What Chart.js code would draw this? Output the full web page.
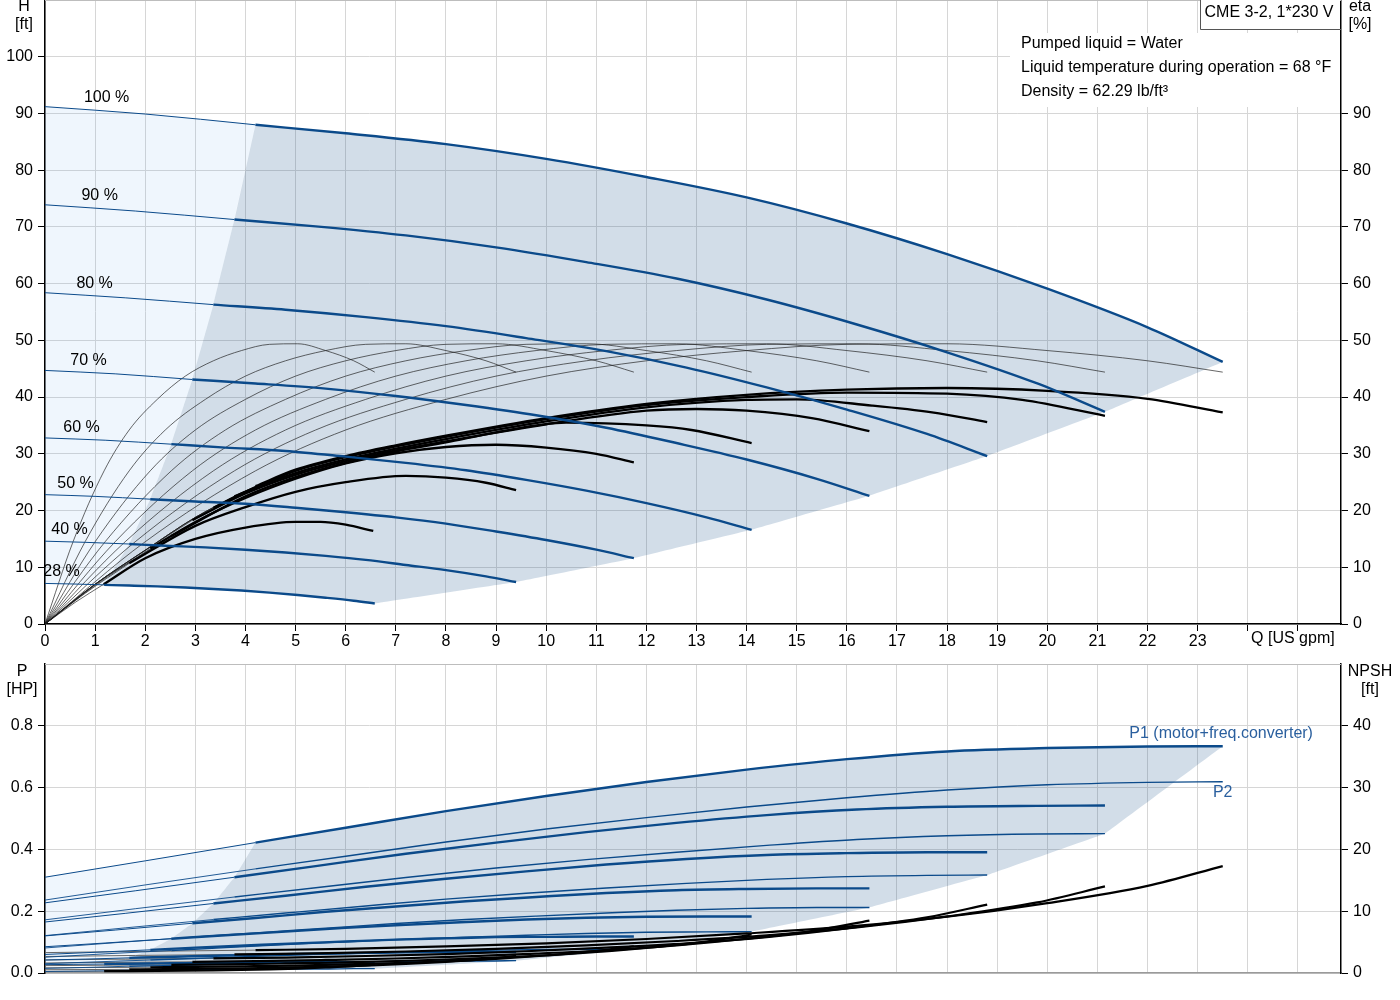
<!DOCTYPE html>
<html><head><meta charset="utf-8">
<script src="https://cdn.jsdelivr.net/npm/chart.js@4.4.0/dist/chart.umd.min.js"></script>
<style>
html,body{margin:0;padding:0;background:#fff;overflow:hidden;}
#top{position:absolute;left:0;top:0;width:1400px;height:655px;}
#bot{position:absolute;left:0;top:655px;width:1400px;height:345px;}
</style></head><body>
<div id="top"><canvas id="c1"></canvas></div>
<div id="bot"><canvas id="c2"></canvas></div>
<script>
// ---------- DATA ----------
const speedLabels = ['100 %','90 %','80 %','70 %','60 %','50 %','40 %','28 %'];
const xTicksShown = [0,1,2,3,4,5,6,7,8,9,10,11,12,13,14,15,16,17,18,19,20,21,22,23];

// flow points (US gpm) for each speed curve
const q100 = [0,2,4.2,6,8,10,12,14,16,18,20,22,23.5];
const q90  = [0,1.8,3.78,5.4,7.2,9,10.8,12.6,14.4,16.2,18,19.8,21.15];
const q80  = [0,1.6,3.36,4.8,6.4,8,9.6,11.2,12.8,14.4,16,17.6,18.8];
const q70  = [0,1.4,2.94,4.2,5.6,7,8.4,9.8,11.2,12.6,14,15.4,16.45];
const q60  = [0,1.2,2.52,3.6,4.8,6,7.2,8.4,9.6,10.8,12,13.2,14.1];
const q50  = [0,1,2.1,3,4,5,6,7,8,9,10,11,11.75];
const q40  = [0,0.8,1.68,2.4,3.2,4,4.8,5.6,6.4,7.2,8,8.8,9.4];
const q28  = [0,0.56,1.18,1.68,2.24,2.8,3.36,3.92,4.48,5.04,5.6,6.16,6.58];

// head H [ft]
const head100 = [91.2,89.9,88.0,86.5,84.6,82.0,78.8,75.2,70.6,65.2,59.1,52.3,46.2];
const head90  = [73.9,72.8,71.3,70.1,68.5,66.4,63.8,60.9,57.2,52.8,47.9,42.4,37.4];
const head80  = [58.4,57.5,56.3,55.4,54.1,52.5,50.4,48.1,45.2,41.7,37.8,33.5,29.6];
const head70  = [44.7,44.1,43.1,42.4,41.5,40.2,38.6,36.8,34.6,31.9,29.0,25.6,22.6];
const head60  = [32.8,32.4,31.7,31.1,30.5,29.5,28.4,27.1,25.4,23.5,21.3,18.8,16.6];
const head50  = [22.8,22.5,22.0,21.6,21.2,20.5,19.7,18.8,17.7,16.3,14.8,13.1,11.6];
const head40  = [14.6,14.4,14.1,13.8,13.5,13.1,12.6,12.0,11.3,10.4,9.5,8.4,7.4];
const head28  = [7.15,7.05,6.9,6.78,6.63,6.43,6.18,5.9,5.53,5.11,4.63,4.1,3.62];

// pump efficiency [%] (same values at the matching flow points of every speed)
const etaPump = [0,14.5,27.0,34.2,39.6,43.7,46.4,48.2,49.3,49.4,48.2,46.4,44.4];

// total efficiency [%] per speed
const etaTotQ100 = [0,1,2,3,4.2,5,6,7,8,10,12,14,16,18,20,22,23.5];
const etaTot100  = [0,7.0,13.0,18.8,24.3,27.2,29.6,31.5,33.2,36.3,38.8,40.4,41.3,41.6,41.1,39.7,37.3];
const etaTotQ90  = [0,1,2,3,3.78,5,6,7,8,10,12,14,16,18,19.5,21.15];
const etaTot90   = [0,7.0,13.0,18.8,22.5,27.0,29.4,31.3,33.0,36.1,38.6,40.0,40.8,40.6,39.5,36.7];
const etaTotQ80  = [0,1,2,3,3.36,4,5,6,7,8,10,12,14,15,16.5,17.7,18.8];
const etaTot80   = [0,7.0,13.0,18.8,20.5,23.3,26.6,29.0,30.9,32.6,35.7,38.2,39.5,39.6,38.5,37.3,35.6];
const etaTotQ70  = [0,1,2,2.94,4,5,6,7,8,10,12,13,14,15.3,16.45];
const etaTot70   = [0,7.0,13.0,18.3,23.0,26.3,28.7,30.6,32.2,35.2,37.6,37.9,37.6,36.3,34.0];
const etaTotQ60  = [0,1,2,2.52,4,5,6,7,8,9,10.4,12,12.9,14.1];
const etaTot60   = [0,7.0,12.6,15.5,22.5,25.9,28.4,30.4,32.0,33.8,35.5,35.0,34.2,31.9];
const etaTotQ50  = [0,1,2.1,3,4,5,6,7,8,9,10,11,11.75];
const etaTot50   = [0,6.8,13.3,18.0,22.2,25.6,28.3,30.1,31.2,31.6,31.1,30.0,28.5];
const etaTotQ40  = [0,0.8,1.68,3,4,5,6,7.2,8,8.8,9.4];
const etaTot40   = [0,5.4,10.7,17.3,20.6,23.3,25.0,26.1,25.8,24.9,23.6];
const etaTotQ28  = [0,0.6,1.17,2,3,4,5,5.5,6,6.55];
const etaTot28   = [0,3.8,7.0,11.6,15.0,17.0,18.0,18.0,17.5,16.4];
const etaTotStart = [4,4,4,3,3,2,2,2];

// power P1 (motor+freq.converter) [HP]
const p1_100 = [0.310,0.363,0.422,0.470,0.524,0.573,0.618,0.658,0.692,0.717,0.728,0.733,0.734];
const p1_90  = [0.227,0.266,0.310,0.346,0.386,0.422,0.456,0.486,0.511,0.529,0.538,0.541,0.542];
const p1_80  = [0.165,0.193,0.225,0.250,0.279,0.305,0.329,0.351,0.369,0.382,0.388,0.391,0.391];
const p1_70  = [0.120,0.139,0.161,0.178,0.198,0.215,0.232,0.246,0.259,0.268,0.272,0.274,0.274];
const p1_60  = [0.085,0.097,0.111,0.122,0.134,0.146,0.156,0.165,0.173,0.179,0.182,0.183,0.183];
const p1_50  = [0.060,0.067,0.075,0.082,0.089,0.096,0.102,0.108,0.112,0.116,0.117,0.118,0.118];
const p1_40  = [0.042,0.045,0.049,0.052,0.055,0.058,0.061,0.063,0.065,0.067,0.068,0.068,0.068];
const p1_28  = [0.027,0.028,0.029,0.030,0.031,0.032,0.033,0.034,0.034,0.035,0.035,0.035,0.035];

// power P2 [HP]
const p2_100 = [0.236,0.285,0.337,0.378,0.424,0.466,0.503,0.537,0.567,0.592,0.609,0.617,0.619];
const p2_90  = [0.172,0.208,0.246,0.276,0.309,0.340,0.367,0.391,0.413,0.432,0.444,0.450,0.451];
const p2_80  = [0.121,0.146,0.173,0.194,0.217,0.239,0.258,0.275,0.290,0.303,0.312,0.316,0.317];
const p2_70  = [0.081,0.098,0.116,0.130,0.145,0.160,0.173,0.184,0.194,0.203,0.209,0.212,0.212];
const p2_60  = [0.051,0.062,0.073,0.082,0.092,0.101,0.109,0.116,0.122,0.128,0.132,0.133,0.134];
const p2_50  = [0.030,0.036,0.042,0.047,0.053,0.058,0.063,0.067,0.071,0.074,0.076,0.077,0.077];
const p2_40  = [0.015,0.018,0.022,0.024,0.027,0.030,0.032,0.034,0.036,0.038,0.039,0.039,0.040];
const p2_28  = [0.005,0.006,0.007,0.008,0.009,0.010,0.011,0.012,0.012,0.013,0.013,0.014,0.014];

// NPSH [ft]
const npsh100 = [3.3,3.5,3.7,3.9,4.3,4.8,5.5,6.4,7.5,9.1,11.3,14.1,17.3];
const npsh90  = [2.67,2.84,3.0,3.16,3.48,3.89,4.46,5.18,6.08,7.37,9.15,11.42,14.01];
const npsh80  = [2.11,2.24,2.37,2.50,2.75,3.07,3.52,4.10,4.80,5.82,7.23,9.02,11.07];
const npsh70  = [1.62,1.72,1.81,1.91,2.11,2.35,2.70,3.14,3.68,4.46,5.54,6.91,8.48];
const npsh60  = [1.19,1.26,1.33,1.40,1.55,1.73,1.98,2.30,2.70,3.28,4.07,5.08,6.23];
const npsh50  = [0.83,0.88,0.93,0.98,1.08,1.20,1.38,1.60,1.88,2.28,2.83,3.53,4.33];
const npsh40  = [0.53,0.56,0.59,0.62,0.69,0.77,0.88,1.02,1.20,1.46,1.81,2.26,2.77];
const npsh28  = [0.26,0.27,0.29,0.31,0.34,0.38,0.43,0.50,0.59,0.71,0.89,1.11,1.36];

const infoLines = ['Pumped liquid = Water','Liquid temperature during operation = 68 °F','Density = 62.29 lb/ft³'];
const titleText = 'CME 3-2, 1*230 V';

// ---------- grouping ----------
const qSpeed = [q100,q90,q80,q70,q60,q50,q40,q28];
const headCurves = [head100,head90,head80,head70,head60,head50,head40,head28];
const etaTotQ = [etaTotQ100,etaTotQ90,etaTotQ80,etaTotQ70,etaTotQ60,etaTotQ50,etaTotQ40,etaTotQ28];
const etaTot = [etaTot100,etaTot90,etaTot80,etaTot70,etaTot60,etaTot50,etaTot40,etaTot28];
const p1Curves = [p1_100,p1_90,p1_80,p1_70,p1_60,p1_50,p1_40,p1_28];
const p2Curves = [p2_100,p2_90,p2_80,p2_70,p2_60,p2_50,p2_40,p2_28];
const npshCurves = [npsh100,npsh90,npsh80,npsh70,npsh60,npsh50,npsh40,npsh28];
const START = 2, END = 12;

// label anchors (data coordinates)
const pctLabelQ = [1.23,1.09,0.99,0.87,0.73,0.61,0.49,0.33];
const pctLabelH = [92.8,75.5,60.0,46.5,34.7,24.8,16.7,9.3];

// ---------- styles ----------
const FONT = '"Liberation Sans", Arial, Helvetica, sans-serif';
Chart.defaults.font.family = FONT;
Chart.defaults.font.size = 16;
Chart.defaults.color = '#000';
const BLUE = '#0b4a8a';
const GRID = '#d6d6d6';
const DARKFILL = 'rgba(30,85,140,0.2)';
const LIGHTFILL = 'rgba(110,175,240,0.11)';

function pts(qs, vs, from, to){ const o=[]; for(let i=from;i<=to;i++) o.push({x:qs[i], y:vs[i]}); return o; }
function lineDs(data, color, width, order, axis){
  return {data, borderColor:color, borderWidth:width, order, yAxisID:axis||'y',
    pointRadius:0, pointHoverRadius:0, fill:false, cubicInterpolationMode:'monotone', borderCapStyle:'butt'};
}
function regionDs(data, color, order, axis){
  return {data, backgroundColor:color, borderColor:'rgba(0,0,0,0)', borderWidth:0, fill:'shape',
    tension:0.0001, pointRadius:0, order, yAxisID:axis||'y'};
}
const noPadV = s => { s.paddingTop = 0; s.paddingBottom = 0; };
const noPadH = s => { s.paddingLeft = 0; s.paddingRight = 0; };

// ---------- TOP CHART ----------
const topSets = [];
const lightTop = [];
for (let i=0;i<=START;i++) lightTop.push({x:q100[i], y:head100[i]});
for (let s=1;s<8;s++) lightTop.push({x:qSpeed[s][START], y:headCurves[s][START]});
for (let i=START-1;i>=0;i--) lightTop.push({x:q28[i], y:head28[i]});
const darkTop = [];
for (let i=START;i<=END;i++) darkTop.push({x:q100[i], y:head100[i]});
for (let s=1;s<8;s++) darkTop.push({x:qSpeed[s][END], y:headCurves[s][END]});
for (let i=END-1;i>=START;i--) darkTop.push({x:q28[i], y:head28[i]});
for (let s=6;s>=1;s--) darkTop.push({x:qSpeed[s][START], y:headCurves[s][START]});
topSets.push(regionDs(lightTop, LIGHTFILL, 100));
topSets.push(regionDs(darkTop, DARKFILL, 99));
for (let s=0;s<8;s++){
  topSets.push(lineDs(pts(qSpeed[s], etaPump, 0, END), 'rgba(30,30,30,0.85)', 0.8, 50, 'y2'));
  const st = etaTotStart[s], n = etaTotQ[s].length-1;
  topSets.push(lineDs(pts(etaTotQ[s], etaTot[s], 0, st), 'rgba(30,30,30,0.85)', 0.8, 50, 'y2'));
  topSets.push(lineDs(pts(etaTotQ[s], etaTot[s], st, n), '#000', 2.3, 10, 'y2'));
  topSets.push(lineDs(pts(qSpeed[s], headCurves[s], 0, START), BLUE, 1, 40));
  topSets.push(lineDs(pts(qSpeed[s], headCurves[s], START, END), BLUE, 2.4, 5));
}

const topText = {
  id:'topText',
  afterDatasetsDraw(chart){
    const {ctx, chartArea:a, scales} = chart;
    const x = scales.x, y = scales.y;
    ctx.save();
    ctx.strokeStyle = '#bdbdbd'; ctx.lineWidth = 1;
    ctx.beginPath(); ctx.moveTo(a.left, a.top+0.5); ctx.lineTo(a.right, a.top+0.5); ctx.stroke();
    ctx.fillStyle = '#fff';
    ctx.fillRect(a.right-331, 33, 330, 74);
    ctx.font = '16px '+FONT; ctx.fillStyle = '#000';
    ctx.textBaseline = 'middle'; ctx.textAlign = 'left';
    infoLines.forEach((t,i)=>ctx.fillText(t, a.right-320, 44+24*i));
    ctx.fillStyle = '#fff';
    ctx.fillRect(a.right-141, 0, 140, 29);
    ctx.strokeStyle = '#555'; ctx.lineWidth = 1;
    ctx.beginPath(); ctx.moveTo(a.right-140.5, 0); ctx.lineTo(a.right-140.5, 29.5); ctx.lineTo(a.right, 29.5); ctx.stroke();
    ctx.fillStyle = '#000'; ctx.textAlign = 'center';
    ctx.fillText(titleText, a.right-72, 13);
    for (let s=0;s<8;s++) ctx.fillText(speedLabels[s], x.getPixelForValue(pctLabelQ[s]), y.getPixelForValue(pctLabelH[s]));
    ctx.fillText('H', 24, 7); ctx.fillText('[ft]', 24, 25);
    ctx.fillText('eta', 1360, 7); ctx.fillText('[%]', 1360, 25);
    ctx.fillText('Q [US gpm]', x.getPixelForValue(24.9), a.bottom+15);
    ctx.restore();
  }
};

new Chart(document.getElementById('c1'), {
  type:'line',
  data:{datasets: topSets},
  options:{
    responsive:true, maintainAspectRatio:false, animation:false, events:[],
    layout:{padding:{top:0,left:0,right:0,bottom:0}},
    plugins:{legend:{display:false}, tooltip:{enabled:false}},
    scales:{
      x:{type:'linear', min:0, max:25.86,
        ticks:{stepSize:1, includeBounds:false, autoSkip:false, maxRotation:0, padding:1,
          callback:v=> xTicksShown.includes(v) ? String(v) : ''},
        grid:{color:GRID, tickColor:'#000', tickLength:7},
        border:{color:'#000', width:1.5},
        afterFit:s=>{s.height=31; noPadH(s);}},
      y:{type:'linear', position:'left', min:0, max:110,
        ticks:{stepSize:10, autoSkip:false, padding:5, callback:v=> v<=100 ? String(v) : null},
        grid:{color:GRID, tickColor:'#000', tickLength:7},
        border:{color:'#000', width:1.5},
        afterFit:s=>{s.width=45; noPadV(s);}},
      y2:{type:'linear', position:'right', min:0, max:110,
        ticks:{stepSize:10, autoSkip:false, padding:5, callback:v=> v<=90 ? String(v) : null},
        grid:{drawOnChartArea:false, tickColor:'#000', tickLength:7},
        border:{color:'#000', width:1.5},
        afterFit:s=>{s.width=59; noPadV(s);}}
    }
  },
  plugins:[topText]
});

// ---------- BOTTOM CHART ----------
const botSets = [];
const lightBot = [];
for (let i=0;i<=START;i++) lightBot.push({x:q100[i], y:p1_100[i]});
for (let s=1;s<8;s++) lightBot.push({x:qSpeed[s][START], y:p1Curves[s][START]});
for (let i=START-1;i>=0;i--) lightBot.push({x:q28[i], y:p1_28[i]});
const darkBot = [];
for (let i=START;i<=END;i++) darkBot.push({x:q100[i], y:p1_100[i]});
for (let s=1;s<8;s++) darkBot.push({x:qSpeed[s][END], y:p2Curves[s][END]});
for (let s=7;s>=1;s--) darkBot.push({x:qSpeed[s][START], y:p1Curves[s][START]});
botSets.push(regionDs(lightBot, LIGHTFILL, 100));
botSets.push(regionDs(darkBot, DARKFILL, 99));
for (let s=0;s<8;s++){
  botSets.push(lineDs(pts(qSpeed[s], p1Curves[s], 0, START), BLUE, 1, 40));
  botSets.push(lineDs(pts(qSpeed[s], p1Curves[s], START, END), BLUE, 2.4, 6));
  botSets.push(lineDs(pts(qSpeed[s], p2Curves[s], 0, START), BLUE, 0.9, 41));
  botSets.push(lineDs(pts(qSpeed[s], p2Curves[s], START, END), BLUE, 1.4, 7));
  botSets.push(lineDs(pts(qSpeed[s], npshCurves[s], 0, START), '#666', 1, 42, 'y2'));
  botSets.push(lineDs(pts(qSpeed[s], npshCurves[s], START, END), '#000', 2.2, 5, 'y2'));
}

const botText = {
  id:'botText',
  afterDatasetsDraw(chart){
    const {ctx, chartArea:a, scales} = chart;
    const x = scales.x, y = scales.y;
    ctx.save();
    ctx.strokeStyle = '#bdbdbd'; ctx.lineWidth = 1;
    ctx.beginPath(); ctx.moveTo(a.left, a.top+0.5); ctx.lineTo(a.right, a.top+0.5); ctx.stroke();
    ctx.font = '16px '+FONT; ctx.textBaseline = 'middle'; ctx.textAlign = 'center';
    ctx.fillStyle = '#000';
    ctx.fillText('P', 22, 17); ctx.fillText('[HP]', 22, 35);
    ctx.fillText('NPSH', 1370, 17); ctx.fillText('[ft]', 1370, 35);
    ctx.fillStyle = '#2a5f9e';
    ctx.textAlign = 'right';
    ctx.fillText('P1 (motor+freq.converter)', x.getPixelForValue(25.3), y.getPixelForValue(0.775));
    ctx.textAlign = 'center';
    ctx.fillText('P2', x.getPixelForValue(23.5), y.getPixelForValue(0.583));
    ctx.restore();
  }
};

new Chart(document.getElementById('c2'), {
  type:'line',
  data:{datasets: botSets},
  options:{
    responsive:true, maintainAspectRatio:false, animation:false, events:[],
    layout:{padding:{top:9,left:0,right:0,bottom:0}},
    plugins:{legend:{display:false}, tooltip:{enabled:false}},
    scales:{
      x:{type:'linear', min:0, max:25.86,
        ticks:{display:false, stepSize:1, includeBounds:false, autoSkip:false},
        grid:{color:GRID, drawTicks:false},
        border:{color:'#9a9a9a', width:1.5},
        afterFit:s=>{s.height=27; noPadH(s);}},
      y:{type:'linear', position:'left', min:0, max:1.0,
        ticks:{stepSize:0.2, autoSkip:false, padding:5, callback:v=> v<0.9 ? v.toFixed(1) : null},
        grid:{color:GRID, tickColor:'#000', tickLength:7},
        border:{color:'#000', width:1.5},
        afterFit:s=>{s.width=45; noPadV(s);}},
      y2:{type:'linear', position:'right', min:0, max:50,
        ticks:{stepSize:10, autoSkip:false, padding:5, callback:v=> v<=40 ? String(v) : null},
        grid:{drawOnChartArea:false, tickColor:'#000', tickLength:7},
        border:{color:'#000', width:1.5},
        afterFit:s=>{s.width=59; noPadV(s);}}
    }
  },
  plugins:[botText]
});
</script></body></html>
